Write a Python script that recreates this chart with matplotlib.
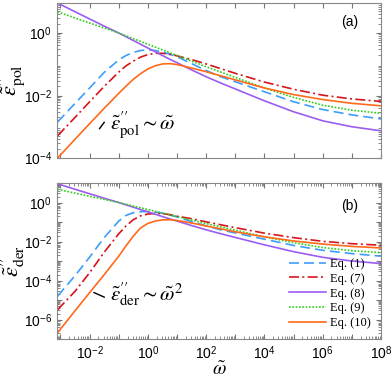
import numpy as np
import matplotlib
matplotlib.use("Agg")
import matplotlib.pyplot as plt

plt.rcParams['mathtext.fontset'] = 'custom'
plt.rcParams['mathtext.rm'] = 'STIXGeneral'
plt.rcParams['mathtext.it'] = 'STIXGeneral:italic'
plt.rcParams['mathtext.sf'] = 'Liberation Sans'
plt.rcParams['mathtext.fallback'] = 'stix'
plt.rcParams['font.family'] = ['Liberation Sans', 'DejaVu Sans']

# log10 of the reduced frequency
logw = [-3.1, -2.5, -2.0, -1.5, -1.0, -0.75, -0.5, -0.25, 0.0, 0.25, 0.5, 0.75,
        1.0, 1.5, 2.0, 2.5, 3.0, 4.0, 5.0, 6.0, 7.0, 8.0]

# log10 of eps'' (a) polarisation panel
pol_eq1 = [-2.85, -2.25, -1.76, -1.26, -0.86, -0.72, -0.62, -0.56, -0.54, -0.56, -0.61, -0.68,
           -0.76, -0.98, -1.20, -1.40, -1.56, -1.88, -2.20, -2.45, -2.62, -2.75]
pol_eq7 = [-3.29, -2.70, -2.20, -1.71, -1.25, -1.05, -0.90, -0.77, -0.69, -0.65, -0.65, -0.68,
           -0.73, -0.85, -0.99, -1.14, -1.29, -1.57, -1.80, -1.99, -2.11, -2.19]
pol_eq8 = [0.96, 0.68, 0.45, 0.22, 0.00, -0.12, -0.24, -0.36, -0.48, -0.60, -0.72, -0.84,
           -0.95, -1.18, -1.40, -1.60, -1.79, -2.17, -2.52, -2.81, -3.00, -3.13]
pol_eq9 = [0.68, 0.48, 0.32, 0.16, 0.00, -0.09, -0.18, -0.27, -0.36, -0.45, -0.54, -0.63,
           -0.72, -0.90, -1.08, -1.25, -1.42, -1.76, -2.06, -2.31, -2.47, -2.57]
pol_eq10 = [-4.00, -3.40, -2.90, -2.41, -1.93, -1.70, -1.48, -1.30, -1.15, -1.05, -0.99, -0.98,
            -1.01, -1.12, -1.24, -1.37, -1.50, -1.76, -1.97, -2.13, -2.25, -2.33]

# log10 of eps'' (b) derivative panel
der_eq1 = [-4.80, -3.75, -2.80, -1.80, -0.95, -0.66, -0.52, -0.47, -0.46, -0.49, -0.55, -0.64,
           -0.74, -0.98, -1.20, -1.40, -1.56, -1.88, -2.20, -2.45, -2.62, -2.75]
der_eq7 = [-5.50, -4.55, -3.60, -2.55, -1.60, -1.20, -0.88, -0.68, -0.59, -0.56, -0.57, -0.62,
           -0.70, -0.83, -0.99, -1.14, -1.29, -1.57, -1.80, -1.99, -2.11, -2.19]
der_eq8 = pol_eq8
der_eq9 = pol_eq9
der_eq10 = [-6.68, -5.55, -4.62, -3.70, -2.75, -2.22, -1.72, -1.30, -1.07, -0.95, -0.89, -0.88,
            -0.92, -1.05, -1.20, -1.35, -1.50, -1.76, -1.97, -2.13, -2.25, -2.33]

labels = ["Eq. (1)", "Eq. (7)", "Eq. (8)", "Eq. (9)", "Eq. (10)"]
colors = ["#3d9dfa", "#d8141c", "#9b5cf0", "#2fcf1a", "#ff6a1a"]
styles = [(0, (6, 3)), (0, (6, 2, 1.2, 2)), "-", (0, (1, 1)), "-"]

w = 10 ** np.array(logw)


def sf(e):
    return r"$\mathsf{10}^{\mathsf{%d}}$" % e


fig = plt.figure(figsize=(3.92, 3.81), dpi=100)
ax1 = fig.add_axes([0.1454, 0.5853, 0.8265, 0.4068])
ax2 = fig.add_axes([0.1454, 0.1102, 0.8265, 0.4094])

for ax, sets in [(ax1, [pol_eq1, pol_eq7, pol_eq8, pol_eq9, pol_eq10]),
                 (ax2, [der_eq1, der_eq7, der_eq8, der_eq9, der_eq10])]:
    for vals, c, ls, lab in zip(sets, colors, styles, labels):
        ax.plot(w, 10 ** np.array(vals), color=c, ls=ls, lw=1.2, label=lab)
    ax.set_xscale("log")
    ax.set_yscale("log")
    ax.set_xlim(10 ** -3.12, 1e8)
    ax.tick_params(which="both", direction="in", top=True, right=True, colors="#777777",
                   labelcolor="black", labelsize=10)
    for s in ax.spines.values():
        s.set_color("#888888")

ax1.set_ylim(1e-4, 10 ** 0.96)
ax1.set_yticks([1e-4, 1e-2, 1e0])
ax1.set_yticklabels([sf(-4), sf(-2), sf(0)])
ax1.set_xticks(10.0 ** np.arange(-3, 9))
ax1.xaxis.set_minor_locator(matplotlib.ticker.NullLocator())
ax1.set_xticklabels([])
ax1.yaxis.set_minor_locator(matplotlib.ticker.LogLocator(base=10, subs=np.arange(2, 10), numticks=20))

ax2.set_ylim(1e-7, 10)
ax2.set_yticks(10.0 ** np.arange(-7, 2))
ax2.set_yticklabels(["", sf(-6), "", sf(-4), "", sf(-2), "", sf(0), ""])
ax2.set_xticks(10.0 ** np.arange(-3, 9))
ax2.set_xticklabels(["", sf(-2), "", sf(0), "", sf(2), "", sf(4), "", sf(6), "", sf(8)])
ax2.xaxis.set_minor_locator(matplotlib.ticker.LogLocator(base=10, subs=np.arange(2, 10), numticks=20))
ax2.yaxis.set_minor_locator(matplotlib.ticker.LogLocator(base=10, subs=np.arange(2, 10), numticks=20))

ax1.set_ylabel(r"$\tilde{\varepsilon}^{\prime\prime}_{\mathrm{pol}}$", fontsize=16)
ax2.set_ylabel(r"$\tilde{\varepsilon}^{\prime\prime}_{\mathrm{der}}$", fontsize=16)
ax1.yaxis.set_label_coords(-0.093, 0.5)
ax2.yaxis.set_label_coords(-0.093, 0.5)
ax2.set_xlabel(r"$\tilde{\omega}$", fontsize=14, labelpad=0)

ax1.text(0.93, 0.85, "(a)", transform=ax1.transAxes, fontsize=10, ha="right")
ax2.text(0.93, 0.83, "(b)", transform=ax2.transAxes, fontsize=10, ha="right")

ax1.plot([10 ** -1.66, 10 ** -1.50], [10 ** -3.06, 10 ** -2.86], color="black", lw=1)
ax1.text(10 ** -1.3, 10 ** -2.95, r"$\tilde{\varepsilon}^{\prime\prime}_{\mathrm{pol}}\sim\tilde{\omega}$",
         fontsize=15, va="center")
ax2.plot([10 ** -1.85, 10 ** -1.5], [10 ** -4.62, 10 ** -4.85], color="black", lw=1)
ax2.text(10 ** -1.3, 10 ** -4.75, r"$\tilde{\varepsilon}^{\prime\prime}_{\mathrm{der}}\sim\tilde{\omega}^2$",
         fontsize=15, va="center")

leg = ax2.legend(loc="lower right", frameon=False, handlelength=3.0, handletextpad=0.3,
                 labelspacing=0.22, borderaxespad=0.4, prop={"family": "Liberation Serif", "size": 9})

fig.savefig("out.png", dpi=100)
